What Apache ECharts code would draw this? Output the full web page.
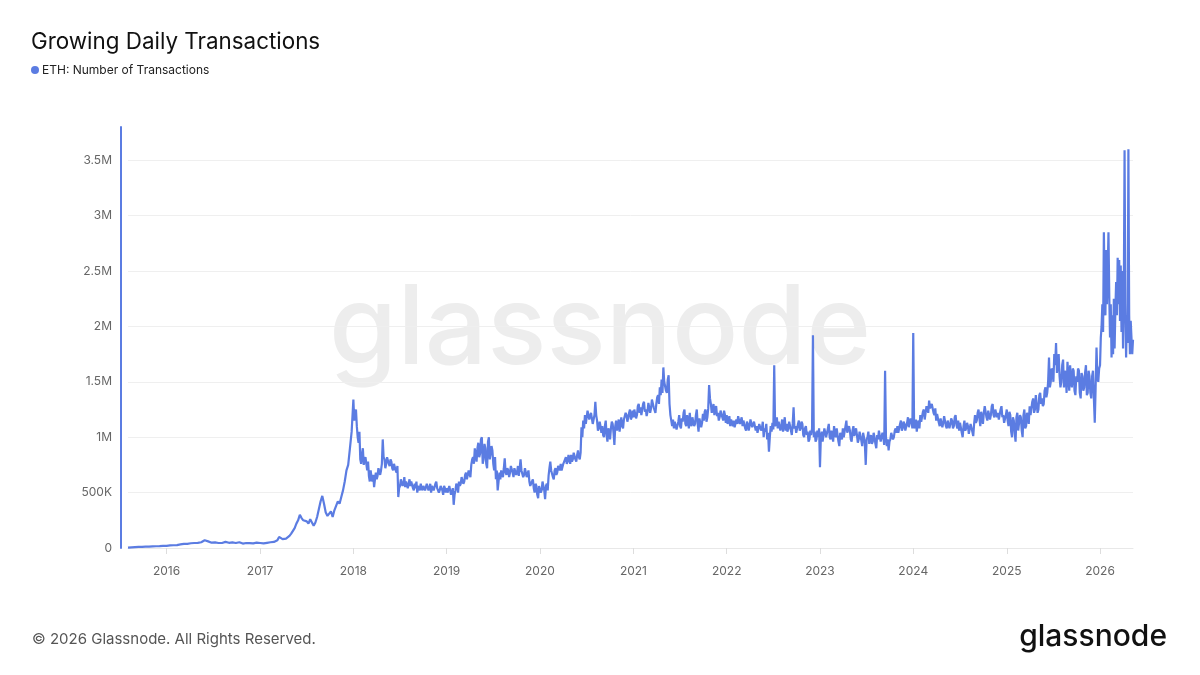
<!DOCTYPE html>
<html>
<head>
<meta charset="utf-8">
<script src="https://cdn.jsdelivr.net/npm/echarts@6/dist/echarts.min.js"></script>
<style>
html,body{margin:0;padding:0;background:#fff;}
#chart{width:1200px;height:675px;}
</style>
</head>
<body>
<div id="chart"></div>
<script>
// Readings in thousands of transactions per day. "a" arrays: one reading per week;
// "b" arrays: the mid-week reading on the other side of the daily noise band.
const v2015 = [3,5,6,7,8,9,10,9,11,10,12,13,12,14,15,14,16,18,17,15,19,22];
const v2016 = [20,22,24,21,25, 27,26,30,32, 35,37,40,38,45, 43,42,45,48, 47,50,52,55, 70,55,60,52,48, 55,50,47,45, 48,45,50,55,45, 47,42,50,48, 45,38,52,55,40, 42,45,48,44, 46,42,45,48,43];
const v2017 = [45,48,42,50,47, 46,52,50,55, 60,70,100,85,80, 90,85,100,110, 130,140,180,220,250, 300,270,250,260, 240,220,260,250,200, 230,280,350,420, 470,400,320,290,300, 330,280,340,380, 420,400,460,520, 600,700,750,900,1050];
const a2018 = [1340,1200,1100,950,800, 850,750,820,700, 650,700,600,550,680, 650,720,700,980, 800,760,820,740,780, 700,760,680,460, 560,620,580,550,600, 580,560,600,520, 540,500,560,580,520, 560,520,580,540, 500,560,520,600,540, 520,560,480,540];
const b2018 = [1150,1250,1000,1050,760, 900,800,760,780, 600,640,660,620,620, 720,660,760,820, 720,820,760,800,720, 760,700,740,540, 620,560,640,600,540, 620,600,540,580, 600,560,520,540,560, 520,580,520,580, 560,520,580,540,500, 560,520,560,500];
const a2019 = [540,500,560,470, 390,520,560,600, 580,640,600,680,620, 700,750,820,900, 780,950,850,1000,800, 900,720,1000,850, 880,700,620,520,680, 700,640,810,660, 700,680,750,640,720, 680,650,800,700, 660,720,640,600,560, 620,500,560,450];
const b2019 = [500,560,480,540, 480,580,500,560, 640,580,660,620,700, 640,800,760,840, 900,820,980,760,940, 760,960,800,920, 760,820,700,600,620, 660,720,680,720, 640,740,680,720,660, 740,720,700,640, 720,640,700,560,600, 540,580,480,560];
const a2020 = [560,520,600,440,580, 650,780,700,620, 720,680,740,760,700, 750,820,780,800, 840,800,860,780,880, 800,1090,1150,1200, 1180,1250,1150,1220,1130, 1320,1150,1080,1100, 1100,1000,1150,960,1050, 1080,1120,930,1150, 1100,1050,1180,1080,1150, 1200,1130,1250,1180];
const b2020 = [500,600,520,560,520, 720,700,640,700, 660,740,700,700,760, 800,760,840,760, 780,860,800,840,820, 860,1000,1080,1120, 1240,1160,1220,1120,1200, 1200,1060,1140,1040, 1020,1100,1020,1080,980, 1140,1040,1100,1060, 1160,1120,1100,1160,1220, 1140,1220,1160,1240];
const a2021 = [1180,1250,1200,1300, 1270,1200,1320,1250, 1230,1300,1260,1350,1280, 1300,1380,1450,1520, 1630,1500,1400,1560,1200, 1100,1080,1150,1060, 1200,1080,1140,1250,1100, 1150,1220,1100,1180, 1120,1250,1050,1180,1130, 1150,1250,1180,1470, 1300,1250,1200,1280, 1220,1180,1250,1150,1200];
const b2021 = [1250,1170,1280,1220, 1200,1300,1230,1190, 1310,1220,1340,1270,1220, 1360,1300,1380,1400, 1500,1420,1520,1300,1150, 1160,1140,1070,1140, 1100,1170,1220,1120,1200, 1080,1130,1180,1100, 1200,1120,1170,1090,1210, 1230,1140,1260,1350, 1220,1300,1260,1190, 1150,1240,1180,1240,1130];
const a2022 = [1200,1130,1100,1170, 1150,1080,1120,1200, 1130,1100,1160,1060,1120, 1100,1150,1080,1130, 1100,1050,1120,1080,1000, 1050,980,870,1100, 1130,1650,1120,1080,1150, 1100,1050,1180,1120, 1080,1150,1020,1270,1100, 1050,1150,1080,1120, 1000,1100,1050,980, 1020,1920,1050,980,1000];
const b2022 = [1120,1190,1160,1100, 1090,1160,1190,1120, 1180,1150,1080,1140,1060, 1160,1090,1140,1060, 1040,1120,1060,1140,1080, 1120,1040,1000,1050, 1070,1100,1180,1140,1060, 1160,1120,1060,1050, 1140,1060,1120,1080,1040, 1120,1060,1140,1020, 1080,1020,960,1060, 1080,1000,960,1060,1080];
const a2023 = [730,1050,950,1080, 1000,1120,980,1050, 1100,1000,1080,920,1050, 1080,1000,1150,1040, 1060,960,1100,1000,1020, 980,1060,920,1000, 750,1000,940,1020,960, 1000,900,980,1050, 950,1000,1600,920,880, 980,1050,1000,1080, 1100,1050,1150,1080,1120, 1050,1180,1100,1150];
const b2023 = [1000,960,1080,1000, 1080,1000,1060,960, 1020,1080,960,1040,980, 1000,1100,1040,1100, 980,1060,1010,1080,950, 1050,970,1040,940, 980,1050,990,940,1040, 940,1020,1060,960, 1040,930,1000,980,960, 1040,980,1060,1040, 1040,1120,1060,1140,1060, 1130,1090,1170,1080];
const a2024 = [1940,1100,1050,1150, 1200,1150,1250,1220, 1280,1330,1250,1300,1200, 1150,1220,1100,1180, 1130,1180,1080,1160,1120, 1150,1100,1200,1080, 1060,1120,1000,1150,1080, 1100,1040,1130,1010, 1200,1150,1250,1100,1180, 1220,1280,1150,1250, 1200,1300,1180,1260, 1220,1150,1280,1200,1120];
const b2024 = [1080,1160,1120,1080, 1140,1230,1160,1280, 1220,1260,1300,1220,1260, 1210,1130,1170,1090, 1190,1100,1150,1080,1170, 1080,1180,1110,1150, 1130,1040,1100,1060,1130, 1030,1120,1050,1120, 1130,1220,1170,1230,1120, 1280,1180,1240,1160, 1280,1200,1250,1180, 1160,1250,1180,1130,1200];
const a2025 = [1250,1100,1200,1000, 1150,960,1220,1050, 1180,1000,1250,1100,1200, 1280,1200,1350,1250, 1300,1250,1400,1350,1300, 1450,1400,1720,1500, 1600,1750,1850,1650,1550, 1500,1700,1600,1400, 1550,1650,1450,1600,1380, 1500,1600,1350,1550, 1450,1650,1400,1550,1350, 1600,1130,1810,1500];
const b2025 = [1150,1230,1050,1180, 1040,1180,1060,1200, 1060,1200,1080,1220,1120, 1200,1320,1220,1380, 1220,1380,1300,1280,1420, 1360,1500,1450,1620, 1500,1650,1580,1750,1450, 1650,1450,1550,1680, 1420,1500,1620,1420,1550, 1620,1400,1580,1420, 1580,1380,1600,1400,1550, 1350,1450,1550,1620];
const v2026 = [1650,1900,2000,2200,1950,2850,2300,2100,2690,2200,2500,2850,2300,1900,2200,1720,2100,1750,2250,1800,2150,2400,2100,2620,2200,2600,2050,2550,1950,2500,1800,2300,3590,2200,1720,2100,1850,3600,2100,1750,2050,1900,1750,1880];

const periods = [
  ['2015-08-03','2016-01-01',v2015],
  ['2016-01-01','2017-01-01',v2016],
  ['2017-01-01','2018-01-01',v2017],
  ['2018-01-01','2019-01-01',a2018,b2018],
  ['2019-01-01','2020-01-01',a2019,b2019],
  ['2020-01-01','2021-01-01',a2020,b2020],
  ['2021-01-01','2022-01-01',a2021,b2021],
  ['2022-01-01','2023-01-01',a2022,b2022],
  ['2023-01-01','2024-01-01',a2023,b2023],
  ['2024-01-01','2025-01-01',a2024,b2024],
  ['2025-01-01','2026-01-01',a2025,b2025],
  ['2026-01-01','2026-05-13',v2026]
];
const yTicks = [0,500000,1000000,1500000,2000000,2500000,3000000,3500000];

const data = [];
periods.forEach(([s,e,arr,mid]) => {
  const t0 = Date.parse(s+'T00:00:00Z'), t1 = Date.parse(e+'T00:00:00Z');
  const step = (t1 - t0) / arr.length;
  arr.forEach((v,i) => {
    data.push([t0 + i*step, v*1000]);
    if (mid && mid[i] != null) data.push([t0 + (i+0.5)*step, mid[i]*1000]);
  });
});

const BLUE = '#5b7ce2';
const chart = echarts.init(document.getElementById('chart'), null, {renderer:'canvas'});
chart.setOption({
  animation:false,
  backgroundColor:'#ffffff',
  textStyle:{fontFamily:'Inter, "Liberation Sans", sans-serif'},
  title:{
    text:'Growing Daily Transactions',
    left:31, top:31, padding:0,
    textStyle:{fontSize:22.4, fontWeight:'normal', color:'#111', fontFamily:'Inter, sans-serif'}
  },
  legend:{
    left:31, top:64, padding:0,
    icon:'circle', itemWidth:8, itemHeight:8, itemGap:10,
    textStyle:{fontSize:12, color:'#222', padding:[0,0,0,-2]},
    data:['ETH: Number of Transactions']
  },
  grid:{left:128, right:67, top:127, bottom:127, containLabel:false},
  xAxis:{
    type:'time',
    min:data[0][0], max:data[data.length-1][0],
    splitNumber:11,
    minInterval:365*86400000, maxInterval:366*86400000,
    axisLine:{show:true, lineStyle:{color:'#e8e8e8', width:1}},
    axisTick:{show:true, length:6, lineStyle:{color:'#dddddd'}},
    axisLabel:{formatter:'{yyyy}', color:'#666', fontSize:12, margin:17, showMinLabel:false},
    splitLine:{show:false}
  },
  yAxis:{
    type:'value',
    min:0, max:3800000, interval:500000,
    offset:7,
    axisLine:{show:true, lineStyle:{color:BLUE, width:2}},
    axisTick:{show:false},
    axisLabel:{
      color:'#666', fontSize:12, margin:9,
      formatter:function(v){
        if (yTicks.indexOf(v) < 0) return '';
        if (v === 0) return '0';
        if (v >= 1000000) return (v/1000000) + 'M';
        return (v/1000) + 'K';
      }
    },
    splitLine:{show:true, lineStyle:{color:['#efefef','#efefef','#efefef','#efefef','#efefef','#efefef','#efefef','#efefef','rgba(0,0,0,0)'], width:1}}
  },
  graphic:[
    {type:'text', left:'center', top:276, z:0, silent:true,
     style:{text:'glassnode', fontSize:110, fontWeight:500, fontFamily:'Inter, sans-serif', fill:'#ededed'}},
    {type:'text', left:32, top:632, silent:true,
     style:{text:'© 2026 Glassnode. All Rights Reserved.', fontSize:15, fontFamily:'Inter, sans-serif', fill:'#555'}},
    {type:'text', right:33, top:622, silent:true,
     style:{text:'glassnode', fontSize:30, fontWeight:500, fontFamily:'Inter, sans-serif', fill:'#111'}}
  ],
  series:[{
    name:'ETH: Number of Transactions',
    type:'line',
    data:data,
    showSymbol:false,
    symbol:'none',
    sampling:false,
    color:BLUE,
    lineStyle:{color:BLUE, width:2.2},
    z:5
  }]
});
</script>
</body>
</html>
